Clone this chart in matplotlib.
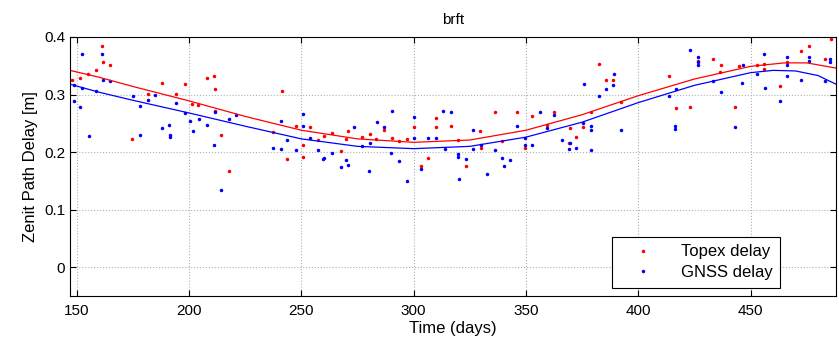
import matplotlib.pyplot as plt
import numpy as np

plt.rcParams['font.family'] = ['Liberation Sans', 'DejaVu Sans']

# Topex delay (red points)
topex_days = np.array([148, 151.3, 155.2, 158.8, 161.4, 161.7, 165, 174.5, 181.7, 188.1,
                       194.4, 198.2, 201.5, 204, 208.2, 211, 211.4, 211.4, 214.1, 217.8,
                       237.5, 241.4, 243.7, 247.6, 250.9, 250.7, 254, 257.4, 260.2, 263.8,
                       267.6, 269.7, 270.9, 277.1, 280.4, 283.4, 286.6, 290.5, 293.4, 297,
                       300.1, 303.1, 306.6, 309.8, 310, 316.7, 319.7, 323.1, 329.5, 329.8,
                       336.3, 339.3, 346.1, 349.4, 352.6, 359.5, 362.4, 369, 369.8, 372.4,
                       375.6, 379, 382.3, 385.7, 388.7, 392.4, 413.6, 416.9, 423.1, 426.5,
                       433.2, 436.6, 436.2, 443.1, 445, 452.9, 455.9, 456, 463, 466.3,
                       472.5, 475.8, 482.9, 485.9])
topex_delay = np.array([0.326, 0.329, 0.335, 0.343, 0.384, 0.357, 0.352, 0.223, 0.301, 0.320,
                        0.301, 0.319, 0.284, 0.282, 0.328, 0.332, 0.310, 0.272, 0.229, 0.168,
                        0.235, 0.306, 0.188, 0.246, 0.212, 0.191, 0.243, 0.221, 0.228, 0.234,
                        0.202, 0.222, 0.237, 0.226, 0.231, 0.222, 0.239, 0.224, 0.219, 0.222,
                        0.243, 0.175, 0.190, 0.259, 0.243, 0.246, 0.221, 0.175, 0.237, 0.207,
                        0.269, 0.219, 0.270, 0.208, 0.263, 0.247, 0.270, 0.216, 0.242, 0.226,
                        0.243, 0.270, 0.353, 0.326, 0.325, 0.287, 0.332, 0.276, 0.278, 0.359,
                        0.361, 0.351, 0.339, 0.279, 0.349, 0.351, 0.353, 0.345, 0.314, 0.357,
                        0.376, 0.385, 0.361, 0.396])

# GNSS delay (blue points)
gnss_days = np.array([149, 148.7, 151.6, 152.5, 152.5, 155.3, 158.8, 161.4, 161.7, 165,
                      174.9, 178.3, 178.3, 181.9, 184.8, 188.1, 191.1, 191.4, 191.4, 194.4,
                      198.2, 200.3, 201.8, 204.6, 208.2, 211.4, 211, 214.4, 217.8, 220.9,
                      237.4, 240.8, 240.8, 243.7, 247.5, 250.6, 250.7, 253.8, 257.4, 259.8,
                      260.2, 263.8, 267.6, 269.7, 270.9, 273.6, 277.1, 280.4, 280.1, 283.6,
                      286.6, 289.9, 290.5, 293.4, 297, 300.1, 300.1, 303.1, 306.5, 309.8,
                      313, 313.8, 316.7, 319.7, 319.7, 320, 323.1, 326.5, 326.5, 329.8,
                      332.8, 336.3, 339.3, 340.2, 342.8, 346.1, 349.4, 349.4, 352.6, 356.1,
                      359.5, 362.4, 366, 369.3, 369.4, 372.4, 375.6, 375.8, 379, 379,
                      379, 382.3, 385.7, 388.7, 389, 392.4, 413.6, 416.3, 416.3, 416.9,
                      422.8, 426.5, 426.5, 426.5, 433.2, 436.6, 443.1, 446.5, 446.1, 452.9,
                      455.9, 456.5, 463, 466.3, 466.3, 466.3, 472.5, 475.8, 475.8, 482.9,
                      485.3, 485.5])
gnss_delay = np.array([0.316, 0.289, 0.279, 0.370, 0.311, 0.228, 0.307, 0.370, 0.326, 0.323,
                       0.298, 0.280, 0.229, 0.291, 0.300, 0.242, 0.247, 0.229, 0.226, 0.286,
                       0.268, 0.254, 0.237, 0.258, 0.247, 0.270, 0.212, 0.135, 0.257, 0.264,
                       0.208, 0.254, 0.205, 0.221, 0.204, 0.266, 0.245, 0.225, 0.204, 0.188,
                       0.189, 0.199, 0.174, 0.187, 0.177, 0.244, 0.211, 0.216, 0.167, 0.253,
                       0.243, 0.199, 0.271, 0.185, 0.150, 0.261, 0.224, 0.171, 0.224, 0.224,
                       0.272, 0.206, 0.270, 0.197, 0.192, 0.154, 0.188, 0.239, 0.205, 0.213,
                       0.162, 0.203, 0.190, 0.175, 0.187, 0.246, 0.224, 0.212, 0.212, 0.269,
                       0.242, 0.264, 0.221, 0.205, 0.215, 0.207, 0.250, 0.318, 0.246, 0.239,
                       0.203, 0.298, 0.310, 0.316, 0.335, 0.238, 0.297, 0.246, 0.241, 0.310,
                       0.377, 0.365, 0.357, 0.351, 0.323, 0.304, 0.243, 0.351, 0.320, 0.335,
                       0.371, 0.312, 0.288, 0.365, 0.352, 0.333, 0.326, 0.365, 0.358, 0.323,
                       0.361, 0.357])

# fitted trend curves
fit_days_red = np.array([147, 160, 175, 200, 225, 250, 275, 300, 325, 350, 375, 400, 425,
                         450, 465, 475, 488])
fit_red = np.array([0.342, 0.330, 0.314, 0.289, 0.262, 0.238, 0.223, 0.217, 0.221, 0.238,
                    0.265, 0.298, 0.327, 0.349, 0.355, 0.355, 0.346])
fit_days_blue = np.array([147, 160, 175, 200, 225, 250, 275, 300, 325, 350, 375, 400, 425,
                          450, 460, 470, 480, 488])
fit_blue = np.array([0.318, 0.304, 0.290, 0.268, 0.245, 0.223, 0.210, 0.206, 0.210, 0.226,
                     0.252, 0.286, 0.316, 0.338, 0.342, 0.341, 0.333, 0.318])

fig = plt.figure(figsize=(8.39, 3.44), dpi=100)
ax = fig.add_axes([0.0834, 0.1395, 0.913, 0.753])

ax.plot(topex_days, topex_delay, '.', color='red', markersize=3, label='Topex delay')
ax.plot(gnss_days, gnss_delay, '.', color='blue', markersize=3, label='GNSS delay')
ax.plot(fit_days_red, fit_red, '-', color='red', linewidth=0.9)
ax.plot(fit_days_blue, fit_blue, '-', color='blue', linewidth=0.9)

ax.set_xlim(147, 488)
ax.set_ylim(-0.05, 0.4)
ax.set_xticks([150, 200, 250, 300, 350, 400, 450])
ax.set_yticks([0, 0.1, 0.2, 0.3, 0.4])
ax.set_yticklabels(['0', '0.1', '0.2', '0.3', '0.4'])
ax.tick_params(direction='in', labelsize=11, top=True, right=True, length=4)
ax.tick_params(axis='x', pad=6)
ax.grid(True, linestyle=':', color='#b0b0b0', linewidth=0.8)

ax.set_title('brft', fontsize=11, pad=9)
ax.set_xlabel('Time (days)', fontsize=12, labelpad=2)
ax.set_ylabel('Zenit Path Delay [m]', fontsize=12)

leg = ax.legend(loc='lower right', fontsize=12, fancybox=False, framealpha=1,
                edgecolor='black', handlelength=2.8, handletextpad=0.9,
                borderpad=0.45, labelspacing=0.35, borderaxespad=0.5,
                bbox_to_anchor=(0.938, 0.0))
leg.get_frame().set_linewidth(0.8)

plt.savefig('out.png', dpi=100)
